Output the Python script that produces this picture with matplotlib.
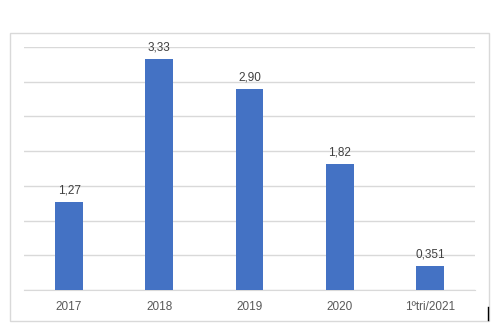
import matplotlib
matplotlib.use("Agg")
import matplotlib.pyplot as plt
from matplotlib.patches import Rectangle
from matplotlib.lines import Line2D

categories = ["2017", "2018", "2019", "2020", "1ºtri/2021"]
values = [1.27, 3.33, 2.90, 1.82, 0.351]
labels = ["1,27", "3,33", "2,90", "1,82", "0,351"]

W, H = 502, 330
fig = plt.figure(figsize=(W / 100, H / 100), dpi=100)
plt.rcParams['font.family'] = ['Liberation Sans', 'DejaVu Sans']

# outer chart border
fig.patches.append(Rectangle((10 / W, 1 - 321 / H), (489 - 10) / W, (321 - 33) / H,
                             transform=fig.transFigure, fill=False,
                             edgecolor="#D9D9D9", linewidth=1.0))
# cursor mark
fig.lines.append(Line2D([488.5 / W, 488.5 / W], [1 - 320 / H, 1 - 307 / H],
                        transform=fig.transFigure, color="black", linewidth=1.0))

ax = fig.add_axes([24 / W, 1 - 290 / H, (475 - 24) / W, (290 - 47) / H])
x = range(len(categories))
ax.bar(x, values, width=0.31, color="#4472C4", zorder=3)
ax.set_xlim(-0.5, len(categories) - 0.5)
ax.set_ylim(0, 3.5)
ax.set_yticks([0.5 * i for i in range(8)])
ax.yaxis.grid(True, color="#D9D9D9", linewidth=1.0, zorder=0)
ax.set_yticklabels([])
ax.tick_params(axis="y", length=0)
ax.set_xticks(list(x))
ax.set_xticklabels(categories, fontsize=8.5, color="#595959")
ax.tick_params(axis="x", length=0, pad=8)
for s in ["top", "right", "left"]:
    ax.spines[s].set_visible(False)
ax.spines["bottom"].set_color("#D9D9D9")

for xi, v, lab in zip(x, values, labels):
    ax.annotate(lab, (xi, v), xytext=(0, 4), textcoords="offset points",
                ha="center", va="bottom", fontsize=8.5, color="#404040")

fig.savefig("out.png", dpi=100, facecolor="white")
